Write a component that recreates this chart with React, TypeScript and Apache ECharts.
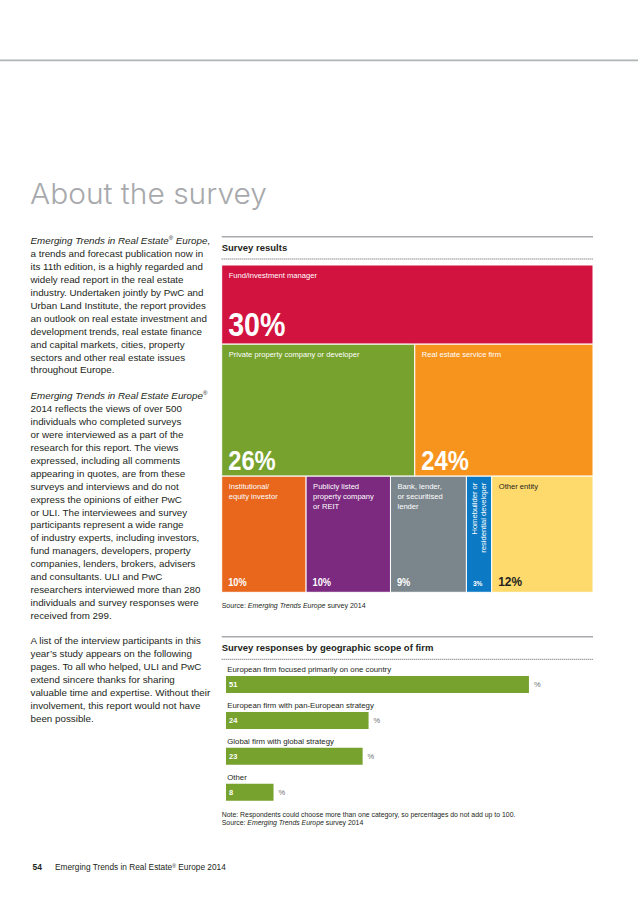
import React, { useEffect, useRef } from "react";
import * as echarts from "echarts";

// ---------- DATA ----------
const entityLabels = [
  "Fund/investment manager",
  "Private property company or developer",
  "Real estate service firm",
  "Institutional/\nequity investor",
  "Publicly listed\nproperty company\nor REIT",
  "Bank, lender,\nor securitised\nlender",
  "Homebuilder or\nresidential developer",
  "Other entity",
];
const entityShares = [30, 26, 24, 10, 10, 9, 3, 12];
const entityRows = [0, 1, 1, 2, 2, 2, 2, 2];

const scopeCategories = [
  "European firm focused primarily on one country",
  "European firm with pan-European strategy",
  "Global firm with global strategy",
  "Other",
];
const scopeValues = [51, 24, 23, 8];

// ---------- STYLES ----------
const entityColors = ["#d2123f", "#76a22d", "#f7941e", "#e8671d", "#7b2a80", "#7b868c", "#0b79c3", "#fed96c"];
const entityTextColors = ["#ffffff", "#ffffff", "#ffffff", "#ffffff", "#ffffff", "#ffffff", "#ffffff", "#231f20"];
const entityPctSizes = [32.5, 27, 27, 10.5, 10.5, 10.5, 7.5, 13.5];
const entityPctGaps = [8.3, 6, 6, 6, 6, 6, 6, 6];
const entityVertical = [false, false, false, false, false, false, true, false];

const FONT = "'Liberation Sans', Arial, Helvetica, sans-serif";
const TEXT = "#231f20";
const GREEN = "#76a22d";

// ---------- TREEMAP LAYOUT (derived from data) ----------
const rowCount = Math.max(...entityRows) + 1;
const rowTotals: number[] = Array(rowCount).fill(0);
entityShares.forEach((v, i) => (rowTotals[entityRows[i]] += v));
const grandTotal = rowTotals.reduce((a, b) => a + b, 0);
const rowStarts: number[] = [];
rowTotals.reduce((acc, t, r) => {
  rowStarts[r] = acc;
  return acc + t;
}, 0);
const rowCursor: number[] = Array(rowCount).fill(0);
const cellData = entityShares.map((v, i) => {
  const r = entityRows[i];
  const x0 = rowCursor[r] / rowTotals[r];
  rowCursor[r] += v;
  const x1 = rowCursor[r] / rowTotals[r];
  return [x0, x1, rowStarts[r], rowStarts[r] + rowTotals[r], v, i];
});

const para1 =
  "{i|Emerging Trends in Real Estate}{si|®}{i| Europe},\n" +
  "a trends and forecast publication now in\n" +
  "its 11th edition, is a highly regarded and\n" +
  "widely read report in the real estate\n" +
  "industry. Undertaken jointly by PwC and\n" +
  "Urban Land Institute, the report provides\n" +
  "an outlook on real estate investment and\n" +
  "development trends, real estate finance\n" +
  "and capital markets, cities, property\n" +
  "sectors and other real estate issues\n" +
  "throughout Europe.";
const para2 =
  "{i|Emerging Trends in Real Estate Europe}{si|®}\n" +
  "2014 reflects the views of over 500\n" +
  "individuals who completed surveys\n" +
  "or were interviewed as a part of the\n" +
  "research for this report. The views\n" +
  "expressed, including all comments\n" +
  "appearing in quotes, are from these\n" +
  "surveys and interviews and do not\n" +
  "express the opinions of either PwC\n" +
  "or ULI. The interviewees and survey\n" +
  "participants represent a wide range\n" +
  "of industry experts, including investors,\n" +
  "fund managers, developers, property\n" +
  "companies, lenders, brokers, advisers\n" +
  "and consultants. ULI and PwC\n" +
  "researchers interviewed more than 280\n" +
  "individuals and survey responses were\n" +
  "received from 299.";
const para3 =
  "A list of the interview participants in this\n" +
  "year’s study appears on the following\n" +
  "pages. To all who helped, ULI and PwC\n" +
  "extend sincere thanks for sharing\n" +
  "valuable time and expertise. Without their\n" +
  "involvement, this report would not have\n" +
  "been possible.";

const LH = 12.9;
const BODY = 9.8;
const bodyRich = {
  i: { fontStyle: "italic", fontSize: BODY, fontFamily: FONT, lineHeight: LH, fill: TEXT },
  si: { fontStyle: "normal", fontSize: 6, fontFamily: FONT, lineHeight: LH, fill: TEXT, verticalAlign: "top", padding: [0, 0, 4, 0] },
};

function bodyText(text: string, y: number) {
  return {
    type: "text",
    x: 30.5,
    y,
    style: {
      text,
      fill: TEXT,
      fontSize: BODY,
      fontFamily: FONT,
      lineHeight: LH,
      align: "left",
      verticalAlign: "top",
      rich: bodyRich,
    },
  };
}

function hline(x1: number, x2: number, y: number, stroke: string, lineWidth: number, dash?: number[]) {
  return {
    type: "line",
    shape: { x1, y1: y, x2, y2: y },
    style: { stroke, lineWidth, lineDash: dash },
  };
}

function smallText(text: string, x: number, y: number, size: number, rich?: any, weight = "normal", fill = TEXT) {
  return {
    type: "text",
    x,
    y,
    style: {
      text,
      fill,
      fontSize: size,
      fontWeight: weight,
      fontFamily: FONT,
      align: "left",
      verticalAlign: "middle",
      rich,
    },
  };
}

const srcRich = (size: number) => ({
  i: { fontStyle: "italic", fontSize: size, fontFamily: FONT, fill: TEXT },
});

const CL = 221.7;
const CR = 593;

export default function App() {
  const ref = useRef<HTMLDivElement>(null);
  useEffect(() => {
    document.body.style.margin = "0";
    const chart = echarts.init(ref.current!, undefined, { renderer: "svg" });
    const option: any = {
      animation: false,
      backgroundColor: "#ffffff",
      grid: [
        { left: CL, top: 265, width: CR - CL, height: 327.3 },
        { left: 226, top: 666.5, width: 356.4, height: 143.7 },
      ],
      xAxis: [
        { type: "value", gridIndex: 0, min: 0, max: 1, show: false },
        { type: "value", gridIndex: 1, min: 0, max: 60, show: false },
      ],
      yAxis: [
        { type: "value", gridIndex: 0, min: 0, max: grandTotal, inverse: true, show: false },
        {
          type: "category",
          gridIndex: 1,
          data: scopeCategories,
          inverse: true,
          axisLine: { show: false },
          axisTick: { show: false },
          splitLine: { show: false },
          axisLabel: {
            inside: true,
            margin: 1.3,
            align: "left",
            verticalAlign: "bottom",
            padding: [0, 0, 10.5, 0],
            color: TEXT,
            fontSize: 7.8,
            fontFamily: FONT,
          },
        },
      ],
      series: [
        {
          type: "custom",
          xAxisIndex: 0,
          yAxisIndex: 0,
          encode: { x: [0, 1], y: [2, 3] },
          data: cellData,
          renderItem: (params: any, api: any) => {
            const idx = api.value(5);
            const p0 = api.coord([api.value(0), api.value(2)]);
            const p1 = api.coord([api.value(1), api.value(3)]);
            const left = p0[0];
            const top = p0[1];
            const w = p1[0] - p0[0];
            const h = p1[1] - p0[1];
            const fill = entityTextColors[idx];
            const fs = entityPctSizes[idx];
            const labelEl = entityVertical[idx]
              ? {
                  type: "text",
                  x: left + w / 2,
                  y: top + 6.5,
                  rotation: Math.PI / 2,
                  style: {
                    text: entityLabels[idx],
                    fill,
                    fontSize: 7.6,
                    fontFamily: FONT,
                    lineHeight: 9.2,
                    align: "right",
                    verticalAlign: "middle",
                  },
                }
              : {
                  type: "text",
                  x: left + 7,
                  y: top + 5,
                  style: {
                    text: entityLabels[idx],
                    fill,
                    fontSize: 7.6,
                    fontFamily: FONT,
                    lineHeight: 10,
                    align: "left",
                    verticalAlign: "top",
                  },
                };
            return {
              type: "group",
              children: [
                {
                  type: "rect",
                  shape: { x: left, y: top, width: w, height: h },
                  style: { fill: entityColors[idx], stroke: "#ffffff", lineWidth: 1 },
                },
                labelEl,
                {
                  type: "text",
                  x: left + 6.5,
                  y: top + h - entityPctGaps[idx] - fs * 0.358,
                  scaleX: 0.88,
                  style: {
                    text: api.value(4) + "%",
                    fill,
                    fontSize: fs,
                    fontWeight: "bold",
                    fontFamily: FONT,
                    align: "left",
                    verticalAlign: "middle",
                  },
                },
              ],
            };
          },
        },
        {
          type: "bar",
          xAxisIndex: 1,
          yAxisIndex: 1,
          data: scopeValues,
          barWidth: 17,
          itemStyle: { color: GREEN },
          label: {
            show: true,
            position: "insideLeft",
            distance: 3,
            color: "#ffffff",
            fontWeight: "bold",
            fontSize: 7.5,
            fontFamily: FONT,
          },
        },
        {
          type: "bar",
          xAxisIndex: 1,
          yAxisIndex: 1,
          data: scopeValues,
          barWidth: 17,
          barGap: "-100%",
          itemStyle: { color: "rgba(0,0,0,0)" },
          label: {
            show: true,
            position: "right",
            distance: 5,
            formatter: "%",
            color: "#6d6e71",
            fontSize: 7.5,
            fontFamily: FONT,
          },
        },
      ],
      graphic: [
        { type: "rect", shape: { x: 0, y: 59, width: 638, height: 1 }, style: { fill: "#d5d7d8" } },
        { type: "rect", shape: { x: 0, y: 60, width: 638, height: 1.2 }, style: { fill: "#b3b6b8" } },
        {
          type: "text",
          x: 30,
          y: 193.5,
          scaleX: 1.05,
          style: {
            text: "About the survey",
            fill: "#a7a9ac",
            fontSize: 28.5,
            fontWeight: 300,
            fontFamily: "Inter, 'Liberation Sans', sans-serif",
            align: "left",
            verticalAlign: "middle",
          },
        },
        bodyText(para1, 241 - LH / 2),
        bodyText(para2, 396 - LH / 2),
        bodyText(para3, 640.7 - LH / 2),
        hline(CL, CR, 236.7, "#a7a9ac", 1.4),
        smallText("Survey results", CL, 247.5, 9.5, undefined, "bold"),
        hline(CL, CR, 259, "#58595b", 1, [1, 1]),
        smallText("Source: {i|Emerging Trends Europe} survey 2014", CL, 605.7, 7, srcRich(7)),
        hline(CL, CR, 636.7, "#a7a9ac", 1.4),
        smallText("Survey responses by geographic scope of firm", CL, 647.5, 9.5, undefined, "bold"),
        hline(CL, CR, 659.3, "#58595b", 1, [1, 1]),
        smallText(
          "Note: Respondents could choose more than one category, so percentages do not add up to 100.",
          CL,
          814,
          6.9
        ),
        smallText("Source: {i|Emerging Trends Europe} survey 2014", CL, 822.3, 6.9, srcRich(6.9)),
        smallText("54", 32.5, 867, 8.4, undefined, "bold"),
        smallText(
          "Emerging Trends in Real Estate{s|®} Europe 2014",
          55,
          867,
          8.3,
          { s: { fontSize: 5, fontFamily: FONT, fill: TEXT, verticalAlign: "top", padding: [0, 0, 3, 0] } }
        ),
      ],
    };
    chart.setOption(option);
    return () => chart.dispose();
  }, []);
  return <div ref={ref} style={{ width: 638, height: 902 }} />;
}
